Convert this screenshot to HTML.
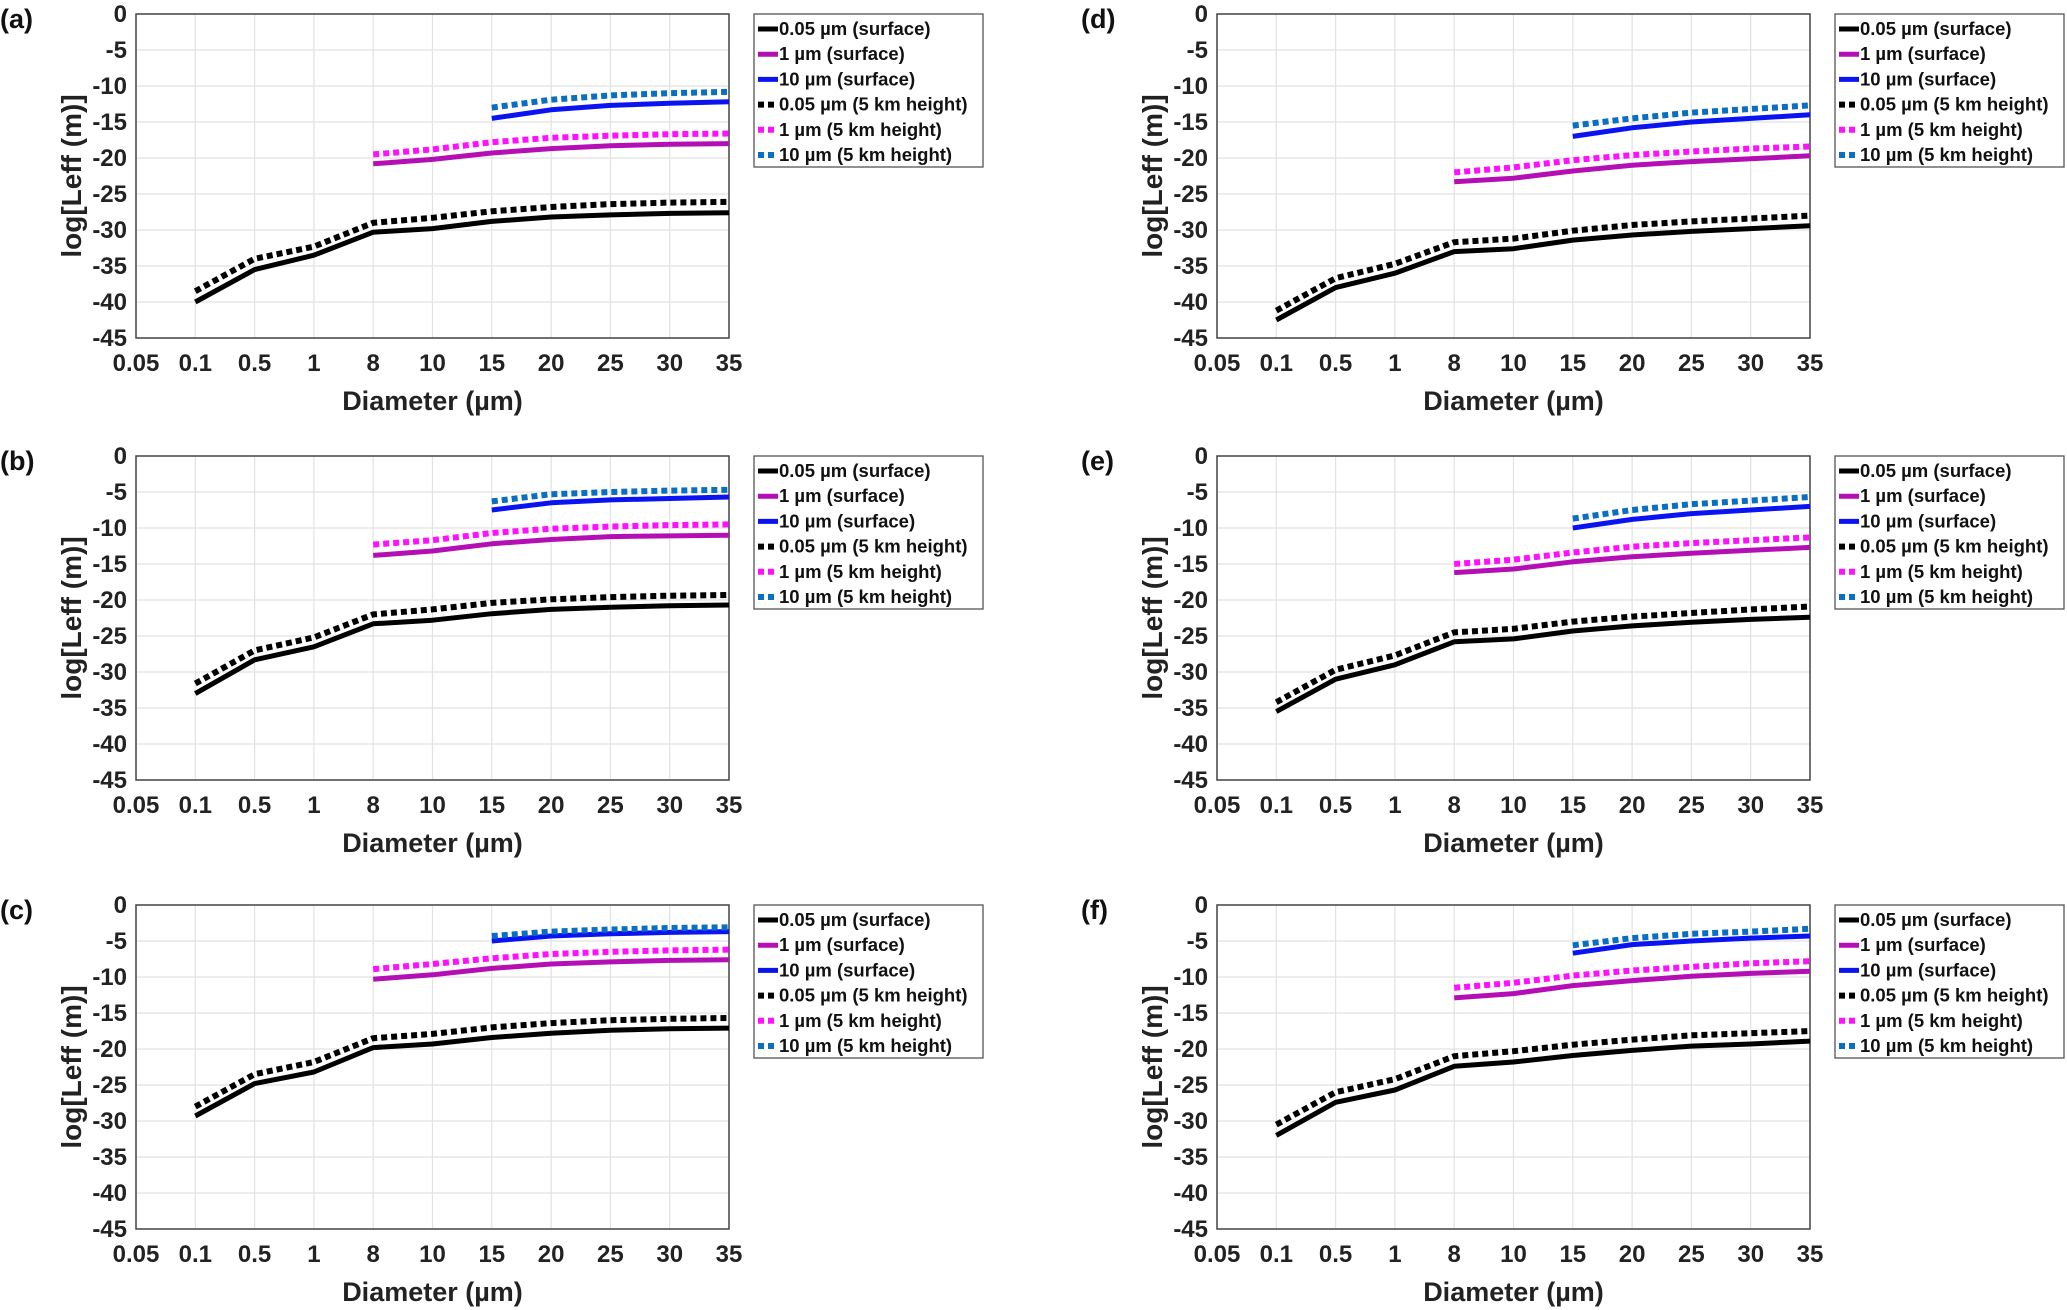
<!DOCTYPE html>
<html><head><meta charset="utf-8"><style>
html,body{margin:0;padding:0;background:#fff;}
svg{display:block;font-family:"Liberation Sans",Arial,sans-serif;}
</style></head><body>
<svg id="fig" width="2067" height="1310" viewBox="0 0 2067 1310" xmlns="http://www.w3.org/2000/svg"></svg>
<script>
const categories = ["0.05","0.1","0.5","1","8","10","15","20","25","30","35"];
const yTicks = [0,-5,-10,-15,-20,-25,-30,-35,-40,-45];
const panelLabels = ["(a)","(b)","(c)","(d)","(e)","(f)"];
const legendLabels = ["0.05 µm (surface)","1 µm (surface)","10 µm (surface)","0.05 µm (5 km height)","1 µm (5 km height)","10 µm (5 km height)"];
const a_black = [-40,-35.5,-33.5,-30.3,-29.8,-28.8,-28.2,-27.9,-27.7,-27.6];
const a_black5 = [-38.5,-34,-32.3,-29,-28.3,-27.4,-26.8,-26.4,-26.2,-26.1];
const a_mag = [-20.8,-20.2,-19.3,-18.7,-18.3,-18.1,-18.0];
const a_mag5 = [-19.5,-18.8,-17.8,-17.2,-16.9,-16.7,-16.6];
const a_blue = [-14.5,-13.3,-12.7,-12.4,-12.2];
const a_blue5 = [-13,-11.9,-11.3,-11,-10.8];
const b_black = [-33,-28.3,-26.5,-23.3,-22.8,-21.9,-21.3,-21,-20.8,-20.7];
const b_black5 = [-31.6,-27,-25.2,-22,-21.3,-20.4,-19.9,-19.6,-19.4,-19.3];
const b_mag = [-13.8,-13.2,-12.2,-11.6,-11.2,-11.1,-11];
const b_mag5 = [-12.3,-11.7,-10.7,-10.1,-9.8,-9.6,-9.5];
const b_blue = [-7.5,-6.5,-6.1,-5.9,-5.7];
const b_blue5 = [-6.3,-5.3,-5,-4.8,-4.7];
const c_black = [-29.3,-24.8,-23.2,-19.8,-19.3,-18.4,-17.8,-17.4,-17.2,-17.1];
const c_black5 = [-28,-23.5,-21.8,-18.5,-17.9,-17,-16.4,-16,-15.8,-15.7];
const c_mag = [-10.3,-9.7,-8.8,-8.2,-7.9,-7.7,-7.6];
const c_mag5 = [-8.9,-8.2,-7.4,-6.8,-6.5,-6.3,-6.2];
const c_blue = [-5,-4.3,-4,-3.8,-3.7];
const c_blue5 = [-4.3,-3.7,-3.4,-3.2,-3.1];
const d_black = [-42.5,-38,-36,-33,-32.6,-31.4,-30.7,-30.2,-29.8,-29.4];
const d_black5 = [-41.2,-36.7,-34.7,-31.7,-31.2,-30.1,-29.3,-28.8,-28.4,-28];
const d_mag = [-23.3,-22.8,-21.8,-21.0,-20.5,-20.1,-19.7];
const d_mag5 = [-22,-21.3,-20.3,-19.6,-19.1,-18.7,-18.4];
const d_blue = [-17,-15.8,-15,-14.5,-14];
const d_blue5 = [-15.5,-14.5,-13.7,-13.2,-12.7];
const e_black = [-35.5,-31,-29,-25.8,-25.4,-24.3,-23.6,-23.1,-22.7,-22.4];
const e_black5 = [-34.2,-29.7,-27.7,-24.5,-24,-23,-22.3,-21.8,-21.3,-20.9];
const e_mag = [-16.2,-15.7,-14.7,-14,-13.5,-13.1,-12.7];
const e_mag5 = [-15,-14.4,-13.4,-12.6,-12.1,-11.7,-11.3];
const e_blue = [-10,-8.8,-8,-7.5,-7];
const e_blue5 = [-8.7,-7.5,-6.7,-6.2,-5.7];
const f_black = [-32,-27.4,-25.7,-22.4,-21.8,-20.9,-20.2,-19.6,-19.3,-18.9];
const f_black5 = [-30.5,-26,-24.2,-21,-20.3,-19.4,-18.7,-18.1,-17.8,-17.5];
const f_mag = [-12.9,-12.3,-11.2,-10.5,-9.9,-9.5,-9.2];
const f_mag5 = [-11.5,-10.8,-9.8,-9.1,-8.6,-8.1,-7.8];
const f_blue = [-6.7,-5.5,-5,-4.6,-4.3];
const f_blue5 = [-5.6,-4.6,-4,-3.7,-3.3];

const panels = [
 {lab:0,x:136,y:14, s:[a_black,a_mag,a_blue,a_black5,a_mag5,a_blue5]},
 {lab:1,x:136,y:456,s:[b_black,b_mag,b_blue,b_black5,b_mag5,b_blue5]},
 {lab:2,x:136,y:905,s:[c_black,c_mag,c_blue,c_black5,c_mag5,c_blue5]},
 {lab:3,x:1217,y:14, s:[d_black,d_mag,d_blue,d_black5,d_mag5,d_blue5]},
 {lab:4,x:1217,y:456,s:[e_black,e_mag,e_blue,e_black5,e_mag5,e_blue5]},
 {lab:5,x:1217,y:905,s:[f_black,f_mag,f_blue,f_black5,f_mag5,f_blue5]}
];
const starts=[1,4,6,1,4,6];
const colors=["#000000","#b40fb4","#0a14f0","#000000","#ff10ff","#0a6fc0"];
const dashed=[false,false,false,true,true,true];
const W=593,H=324;
const NS="http://www.w3.org/2000/svg";
const svg=document.getElementById('fig');
function mk(tag,attrs,parent){const e=document.createElementNS(NS,tag);for(const k in attrs)e.setAttribute(k,attrs[k]);(parent||svg).appendChild(e);return e;}
panels.forEach((p,pi)=>{
  const g=mk('g',{});
  
  
  const xs=i=>p.x+i*W/(categories.length-1);
  const ys=v=>p.y+(0-v)/45*H;
  categories.forEach((c,i)=>{const l=mk('line',{x1:xs(i),x2:xs(i),y1:p.y,y2:p.y+H,stroke:'#e2e2e2','stroke-width':1.2},g);
    });
  yTicks.forEach(v=>{const l=mk('line',{x1:p.x,x2:p.x+W,y1:ys(v),y2:ys(v),stroke:'#e2e2e2','stroke-width':1.2},g);
    });
  const box=mk('rect',{x:p.x,y:p.y,width:W,height:H,fill:'none',stroke:'#444','stroke-width':1.5},g);
  
  categories.forEach((c,i)=>{const t=mk('text',{x:xs(i),y:p.y+H+33,'text-anchor':'middle','font-size':24,'font-weight':'bold',fill:'#222'},g);t.textContent=c;
    });
  yTicks.forEach(v=>{const t=mk('text',{x:p.x-9,y:ys(v)+8,'text-anchor':'end','font-size':24,'font-weight':'bold',fill:'#222'},g);t.textContent=v;
    });
  const xt=mk('text',{x:p.x+W/2,y:p.y+H+72,'text-anchor':'middle','font-size':27,'font-weight':'bold',fill:'#222'},g);xt.textContent='Diameter (µm)';
  
  const yt=mk('text',{x:0,y:0,'text-anchor':'middle','font-size':28,'font-weight':'bold',fill:'#222',transform:`translate(${p.x-55},${p.y+H/2}) rotate(-90)`},g);yt.textContent='log[Leff (m)]';
  
  const pl=mk('text',{x:p.x-136,y:p.y+14,'font-size':27,'font-weight':'bold',fill:'#111'},g);pl.textContent=panelLabels[p.lab];
  
  p.s.forEach((arr,si)=>{
    const pts=arr.map((v,k)=>xs(starts[si]+k).toFixed(1)+','+ys(v).toFixed(1)).join(' ');
    const a={points:pts,fill:'none',stroke:colors[si],'stroke-width':dashed[si]?6:5,'stroke-linejoin':'round'};
    if(dashed[si])a['stroke-dasharray']='6 4';
    const pl2=mk('polyline',a,g);
    
    
  });
  const lx=p.x+W+25, ly=p.y;
  const lg=mk('g',{},g);
  
  mk('rect',{x:lx,y:ly,width:229,height:153,fill:'#fff',stroke:'#555','stroke-width':1.3},lg);
  legendLabels.forEach((t,i)=>{
    const cy=ly+15+i*25.2;
    const a={x1:lx+4,x2:lx+24,y1:cy,y2:cy,stroke:colors[i],'stroke-width':dashed[i]?6:5};
    if(dashed[i])a['stroke-dasharray']='6 4';
    const ln=mk('line',a,lg);
    
    const tx=mk('text',{x:lx+25,y:cy+6,'font-size':18.5,'font-weight':'bold',fill:'#111'},lg);tx.textContent=t;
    
  });
});
</script>
</body></html>
